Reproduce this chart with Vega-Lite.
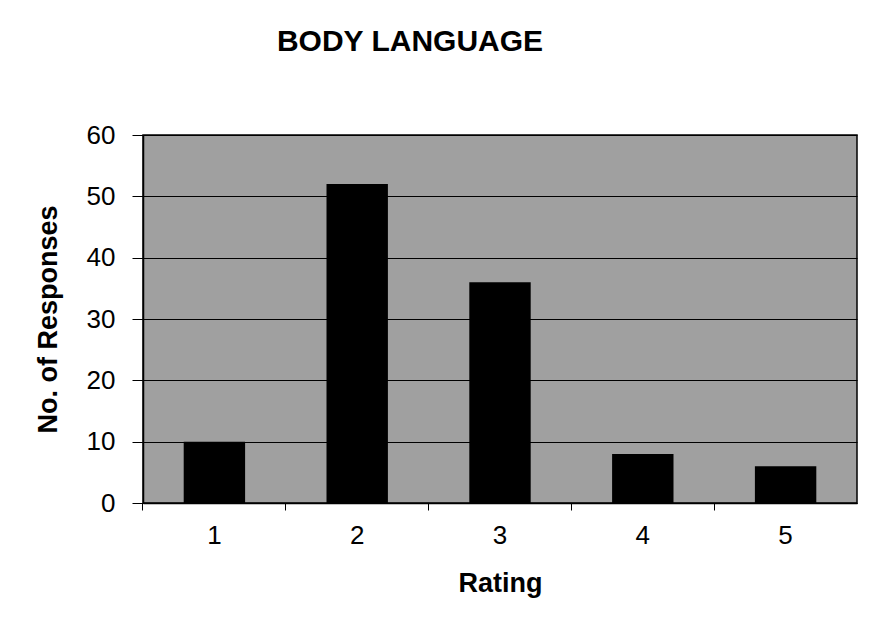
{
  "$schema": "https://vega.github.io/schema/vega-lite/v6.json",
  "autosize": "none",
  "width": 714,
  "height": 368,
  "padding": {"left": 143, "top": 135, "right": 14, "bottom": 131},
  "background": "white",
  "title": {
    "text": "BODY LANGUAGE",
    "font": "Liberation Sans",
    "fontSize": 30,
    "fontWeight": "bold",
    "color": "black",
    "anchor": "middle",
    "frame": "group",
    "dx": -90,
    "offset": 65
  },
  "data": {
    "values": [
      {"Rating": "1", "Responses": 10},
      {"Rating": "2", "Responses": 52},
      {"Rating": "3", "Responses": 36},
      {"Rating": "4", "Responses": 8},
      {"Rating": "5", "Responses": 6}
    ]
  },
  "mark": {"type": "bar", "color": "black"},
  "encoding": {
    "x": {
      "field": "Rating",
      "type": "ordinal",
      "scale": {"paddingInner": 0.57, "paddingOuter": 0.285},
      "axis": {
        "title": "Rating",
        "labelAngle": 0,
        "bandPosition": -0.663,
        "tickSize": 7,
        "labelPadding": 12,
        "titlePadding": 22,
        "grid": false
      }
    },
    "y": {
      "field": "Responses",
      "type": "quantitative",
      "scale": {"domain": [0, 60]},
      "axis": {
        "title": "No. of Responses",
        "values": [0, 10, 20, 30, 40, 50, 60],
        "tickSize": 11,
        "labelPadding": 17,
        "titlePadding": 24,
        "grid": true,
        "gridColor": "black",
        "gridOpacity": 1,
        "gridWidth": 1
      }
    }
  },
  "config": {
    "view": {"fill": "#a0a0a0", "stroke": "black", "strokeWidth": 1.5},
    "axis": {
      "labelFont": "Liberation Sans",
      "labelFontSize": 26,
      "labelColor": "black",
      "titleFont": "Liberation Sans",
      "titleFontSize": 27,
      "titleFontWeight": "bold",
      "titleColor": "black",
      "domainColor": "black",
      "domainWidth": 1.5,
      "tickColor": "black",
      "tickWidth": 1
    }
  }
}
